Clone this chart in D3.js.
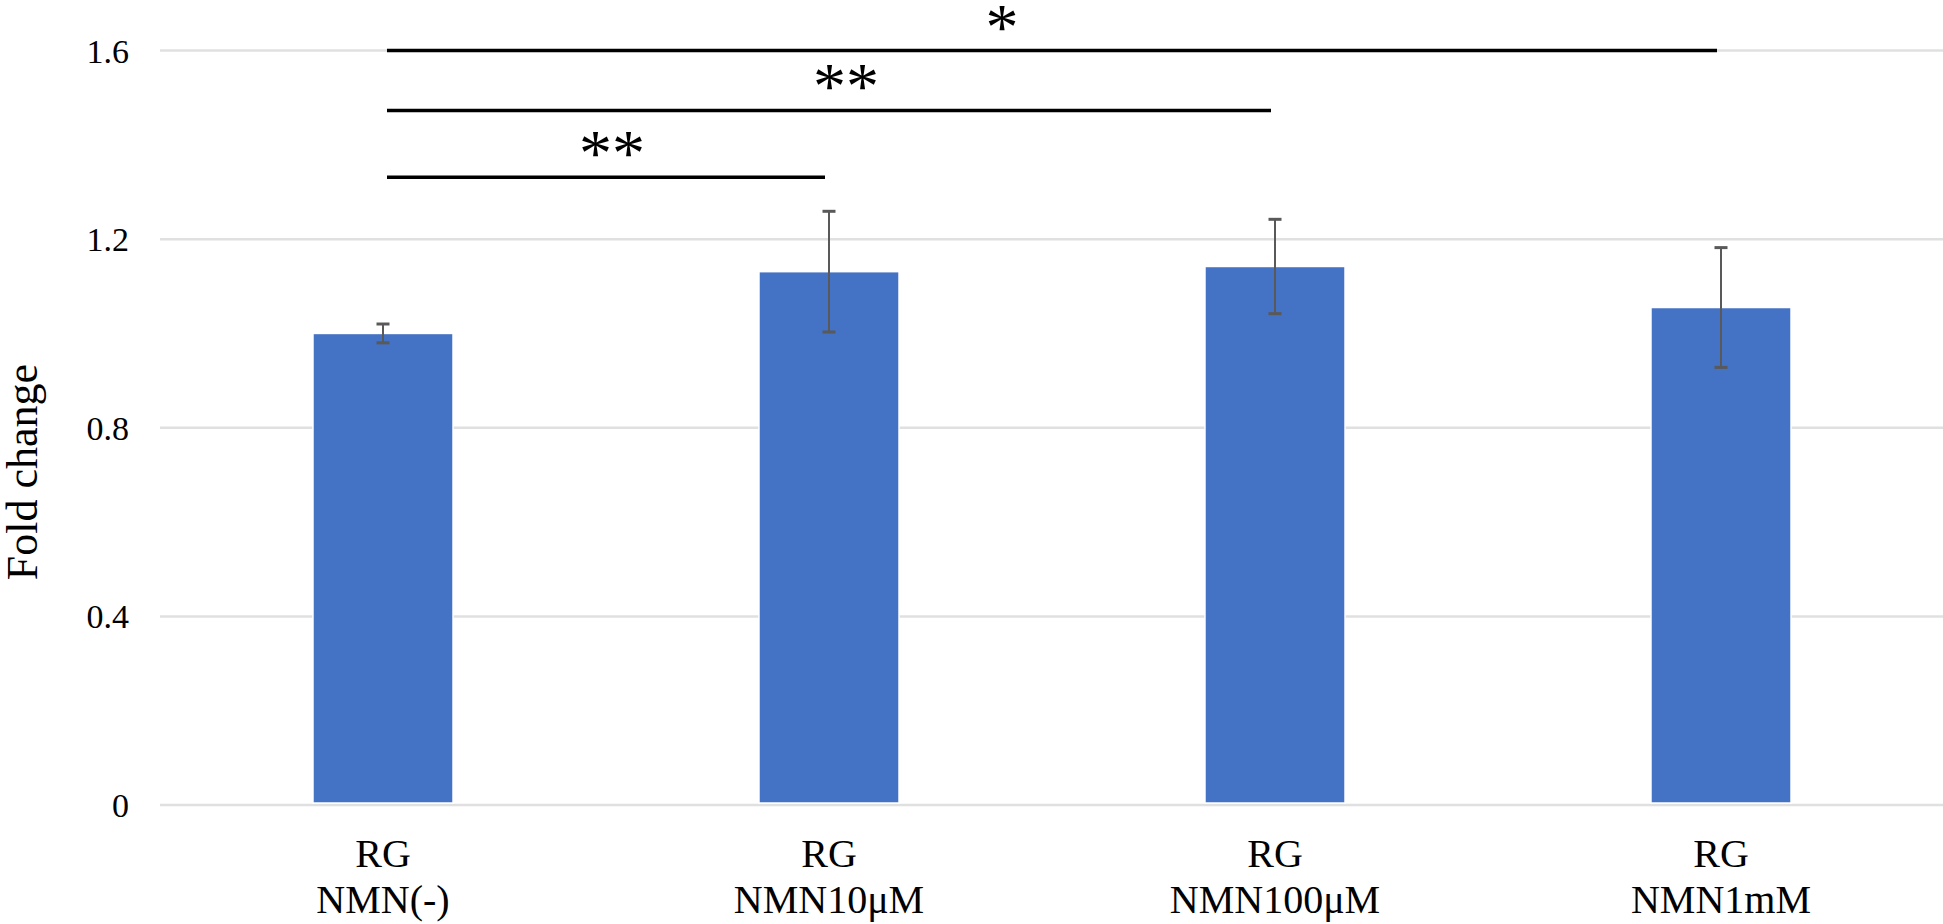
<!DOCTYPE html>
<html>
<head>
<meta charset="utf-8">
<script src="https://cdn.jsdelivr.net/npm/d3@7"></script>
<style>
  html, body { margin: 0; padding: 0; background: #ffffff; }
  svg { display: block; }
  text { font-family: "Liberation Serif", "Times New Roman", serif; fill: #000; }
</style>
</head>
<body>
<svg id="chart" width="1943" height="924"></svg>
<script>
// ---- data ----
const categories = ["RG\nNMN(-)", "RG\nNMN10μM", "RG\nNMN100μM", "RG\nNMN1mM"];
const values = [1.0, 1.131, 1.142, 1.055];
const errors = [0.02, 0.128, 0.1, 0.127];
const yTicks = [0, 0.4, 0.8, 1.2, 1.6];
const yTickLabels = ["0", "0.4", "0.8", "1.2", "1.6"];
const yTitle = "Fold change";
const sigFrom = [0, 0, 0];
const sigTo = [3, 2, 1];
const sigLevel = [1.6, 1.473, 1.331];
const sigLabel = ["*", "**", "**"];

// ---- layout ----
const W = 1943, H = 924;
const svg = d3.select("#chart");
svg.append("rect").attr("width", W).attr("height", H).attr("fill", "#fff");

const x = d3.scaleBand()
  .domain(categories)
  .range([160, 1944])
  .paddingInner(0.686)
  .paddingOuter(0.343);

const y = d3.scaleLinear().domain([0, 1.6]).range([805, 50.5]);

// gridlines
svg.append("g").selectAll("line")
  .data(yTicks)
  .join("line")
  .attr("x1", 160).attr("x2", W)
  .attr("y1", d => y(d)).attr("y2", d => y(d))
  .attr("stroke", "#e0e0e0")
  .attr("stroke-width", 2.5);

// y axis labels
const yAxis = d3.axisLeft(y).tickValues(yTicks)
  .tickFormat((d, i) => yTickLabels[i]).tickSize(0).tickPadding(0);
const gy = svg.append("g").attr("transform", "translate(129,0)").call(yAxis);
gy.select(".domain").remove();
gy.selectAll("text")
  .attr("font-family", "'Liberation Serif', 'Times New Roman', serif")
  .attr("font-size", 34)
  .attr("fill", "#000")
  .attr("dy", "0.34em");

// y title
svg.append("text")
  .attr("transform", "translate(37,472) rotate(-90)")
  .attr("text-anchor", "middle")
  .attr("font-size", 44)
  .text(yTitle);

// bars
svg.append("g").selectAll("rect")
  .data(values)
  .join("rect")
  .attr("x", (d, i) => x(categories[i]))
  .attr("y", d => y(d))
  .attr("width", x.bandwidth())
  .attr("height", d => y(0) - y(d) - 2)
  .attr("fill", "#4472C4")
  .attr("stroke", "#ffffff")
  .attr("stroke-width", 1.5);

// error bars
const eg = svg.append("g");
values.forEach((v, i) => {
  const cx = x(categories[i]) + x.bandwidth() / 2;
  const e = errors[i];
  eg.append("line")
    .attr("x1", cx).attr("x2", cx)
    .attr("y1", y(v + e)).attr("y2", y(v - e))
    .attr("stroke", "#595959").attr("stroke-width", 2);
  [v + e, v - e].forEach(t => {
    eg.append("line")
      .attr("x1", cx - 6.5).attr("x2", cx + 6.5)
      .attr("y1", y(t)).attr("y2", y(t))
      .attr("stroke", "#595959").attr("stroke-width", 3);
  });
});

// x axis category labels
const xAxis = d3.axisBottom(x).tickSize(0).tickPadding(0).tickFormat("");
const gx = svg.append("g").attr("transform", "translate(0,805)").call(xAxis);
gx.select(".domain").remove();
gx.selectAll(".tick").each(function(d) {
  const lines = d.split("\n");
  const t = d3.select(this).append("text")
    .attr("text-anchor", "middle")
    .attr("font-size", 40)
    .attr("fill", "#000");
  lines.forEach((ln, k) => {
    t.append("tspan").attr("x", 0).attr("y", k === 0 ? 62 : 108).text(ln);
  });
});

// significance brackets
const labelShift = [-50, 17, 6];
const sg = svg.append("g");
sigLevel.forEach((lv, i) => {
  const x1 = x(categories[sigFrom[i]]) + x.bandwidth() / 2 + 4;
  const x2 = x(categories[sigTo[i]]) + x.bandwidth() / 2 - 4;
  sg.append("line")
    .attr("x1", x1).attr("x2", x2)
    .attr("y1", y(lv)).attr("y2", y(lv))
    .attr("stroke", "#000").attr("stroke-width", 3.5);
  sg.append("text")
    .attr("x", (x1 + x2) / 2 + labelShift[i])
    .attr("y", y(lv) - 2)
    .attr("text-anchor", "middle")
    .attr("font-size", 66)
    .text(sigLabel[i]);
});
</script>
</body>
</html>
